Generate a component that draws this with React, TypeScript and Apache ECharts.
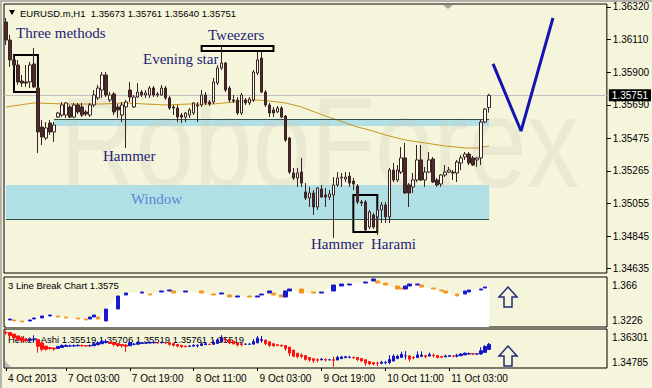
import React, { useEffect, useRef } from "react";
import * as echarts from "echarts";

// ---------- layout constants ----------
const SLOT_COUNT = 151;

// ---------- main chart: EURUSD.m H1 candles (bars 0..121) ----------
const openP = [
  1.36223, 1.36107, 1.35979, 1.35946, 1.35843, 1.35837, 1.35837, 1.35953, 1.35798, 1.35547,
  1.35476, 1.35573, 1.35515, 1.35611, 1.35624, 1.35624, 1.35676, 1.35611, 1.35689, 1.35676,
  1.35644, 1.35624, 1.35689, 1.35734, 1.35785, 1.35882, 1.35721, 1.35760, 1.35676, 1.35624,
  1.35676, 1.35785, 1.35676, 1.35740, 1.35772, 1.35753, 1.35753, 1.35798, 1.35753, 1.35753,
  1.35798, 1.35734, 1.35676, 1.35669, 1.35624, 1.35611, 1.35624, 1.35637, 1.35689, 1.35689,
  1.35753, 1.35708, 1.35708, 1.35830, 1.35927, 1.35959, 1.35798, 1.35721, 1.35721, 1.35637,
  1.35721, 1.35702, 1.35721, 1.35895, 1.35991, 1.35772, 1.35689, 1.35657, 1.35644, 1.35669,
  1.35618, 1.35476, 1.35251, 1.35219, 1.35257, 1.35129, 1.35090, 1.35122, 1.35032, 1.35148,
  1.35109, 1.35096, 1.35109, 1.35174, 1.35219, 1.35212, 1.35231, 1.35199, 1.35167, 1.35064,
  1.35064, 1.34903, 1.34981, 1.34968, 1.35013, 1.35045, 1.34968, 1.35270, 1.35206, 1.35257,
  1.35348, 1.35174, 1.35161, 1.35206, 1.35335, 1.35206, 1.35257, 1.35341, 1.35206, 1.35180,
  1.35238, 1.35257, 1.35257, 1.35251, 1.35315, 1.35354, 1.35373, 1.35348, 1.35335, 1.35348,
  1.35579, 1.35673,
];
const closeP = [
  1.36107, 1.35979, 1.35946, 1.35837, 1.35830, 1.35830, 1.35946, 1.35805, 1.35515, 1.35483,
  1.35541, 1.35515, 1.35560, 1.35637, 1.35689, 1.35702, 1.35611, 1.35689, 1.35644, 1.35624,
  1.35631, 1.35689, 1.35753, 1.35798, 1.35882, 1.35753, 1.35753, 1.35644, 1.35657, 1.35689,
  1.35708, 1.35740, 1.35740, 1.35772, 1.35753, 1.35766, 1.35798, 1.35753, 1.35760, 1.35798,
  1.35734, 1.35669, 1.35669, 1.35611, 1.35611, 1.35637, 1.35657, 1.35702, 1.35682, 1.35753,
  1.35702, 1.35695, 1.35837, 1.35927, 1.35959, 1.35785, 1.35721, 1.35714, 1.35637, 1.35753,
  1.35702, 1.35727, 1.35901, 1.35979, 1.35772, 1.35689, 1.35637, 1.35637, 1.35669, 1.35611,
  1.35463, 1.35257, 1.35219, 1.35251, 1.35186, 1.35090, 1.35122, 1.35032, 1.35154, 1.35096,
  1.35096, 1.35116, 1.35174, 1.35219, 1.35225, 1.35225, 1.35186, 1.35180, 1.35064, 1.35058,
  1.34884, 1.35000, 1.34903, 1.35013, 1.35045, 1.34968, 1.35270, 1.35206, 1.35270, 1.35348,
  1.35122, 1.35122, 1.35206, 1.35335, 1.35206, 1.35257, 1.35335, 1.35193, 1.35174, 1.35238,
  1.35257, 1.35270, 1.35251, 1.35322, 1.35348, 1.35373, 1.35315, 1.35302, 1.35348, 1.35579,
  1.35663, 1.35751,
];
const lowP = [
  1.36075, 1.35934, 1.35914, 1.35818, 1.35805, 1.35805, 1.35798, 1.35798, 1.35380, 1.35431,
  1.35463, 1.35496, 1.35451, 1.35605, 1.35611, 1.35605, 1.35605, 1.35605, 1.35631, 1.35611,
  1.35618, 1.35611, 1.35676, 1.35721, 1.35734, 1.35740, 1.35708, 1.35624, 1.35605, 1.35579,
  1.35412, 1.35708, 1.35669, 1.35734, 1.35740, 1.35734, 1.35734, 1.35740, 1.35740, 1.35747,
  1.35721, 1.35657, 1.35624, 1.35579, 1.35573, 1.35579, 1.35605, 1.35624, 1.35579, 1.35676,
  1.35689, 1.35682, 1.35695, 1.35818, 1.35914, 1.35772, 1.35708, 1.35702, 1.35624, 1.35624,
  1.35689, 1.35689, 1.35708, 1.35882, 1.35766, 1.35676, 1.35611, 1.35611, 1.35637, 1.35605,
  1.35451, 1.35244, 1.35206, 1.35161, 1.35161, 1.35077, 1.35032, 1.34981, 1.35013, 1.35090,
  1.35032, 1.35077, 1.34832, 1.35161, 1.35161, 1.35193, 1.35161, 1.35141, 1.35051, 1.35038,
  1.34871, 1.34890, 1.34890, 1.34852, 1.34929, 1.34929, 1.34929, 1.35193, 1.35193, 1.35244,
  1.35116, 1.35032, 1.35122, 1.35193, 1.35200, 1.35161, 1.35251, 1.35186, 1.35161, 1.35161,
  1.35225, 1.35251, 1.35206, 1.35193, 1.35270, 1.35335, 1.35302, 1.35296, 1.35290, 1.35302,
  1.35573, 1.35640,
];
const highP = [
  1.36249, 1.36140, 1.36011, 1.35979, 1.35882, 1.35946, 1.35966, 1.36056, 1.35811, 1.35592,
  1.35579, 1.35592, 1.35579, 1.35644, 1.35708, 1.35708, 1.35689, 1.35702, 1.35702, 1.35702,
  1.35657, 1.35702, 1.35785, 1.35818, 1.35901, 1.35901, 1.35772, 1.35772, 1.35695, 1.35708,
  1.35721, 1.35837, 1.35753, 1.35830, 1.35785, 1.35785, 1.35811, 1.35811, 1.35772, 1.35818,
  1.35811, 1.35747, 1.35689, 1.35689, 1.35637, 1.35644, 1.35669, 1.35708, 1.35708, 1.35785,
  1.35772, 1.35721, 1.35863, 1.35946, 1.36062, 1.35966, 1.35811, 1.35753, 1.35740, 1.35766,
  1.35734, 1.35740, 1.35914, 1.36030, 1.36030, 1.35785, 1.35702, 1.35676, 1.35682, 1.35682,
  1.35624, 1.35483, 1.35283, 1.35283, 1.35348, 1.35186, 1.35161, 1.35141, 1.35161, 1.35174,
  1.35154, 1.35141, 1.35225, 1.35257, 1.35251, 1.35257, 1.35257, 1.35219, 1.35180, 1.35077,
  1.35077, 1.35013, 1.34994, 1.35032, 1.35064, 1.35064, 1.35283, 1.35315, 1.35302, 1.35418,
  1.35444, 1.35186, 1.35251, 1.35431, 1.35431, 1.35290, 1.35386, 1.35354, 1.35219, 1.35244,
  1.35302, 1.35290, 1.35270, 1.35335, 1.35367, 1.35386, 1.35386, 1.35361, 1.35354, 1.35592,
  1.35669, 1.35761,
];

// moving average: [bar index, value]
const maIndex = [0, 7, 15, 24, 30, 35, 40, 46, 52, 57, 63, 66, 70, 74, 80, 83, 88, 91, 95, 100, 105, 110, 115, 118, 121];
const maValue = [
  1.35676, 1.35702, 1.35695, 1.35695, 1.35702, 1.35695, 1.35689, 1.35695, 1.35695, 1.35708,
  1.35721, 1.35714, 1.35702, 1.35676, 1.35618, 1.35592, 1.35547, 1.35528, 1.35496, 1.35463,
  1.35444, 1.35425, 1.35412, 1.35412, 1.35425,
];

// forecast zig-zag
const forecastIndex = [122, 129, 137];
const forecastValue = [1.35953, 1.35521, 1.36249];

// zones & pattern boxes: [startBar, endBar, top, bottom]
const upperZone = [12, 121, 1.35599, 1.35554];
const windowZone = [0, 121, 1.35174, 1.34955];
const threeMethodsBox = [2, 8, 1.36011, 1.35772];
const tweezersBox = [49, 67, 1.36069, 1.36037];
const haramiBox = [87, 93, 1.35109, 1.34871];

const currentPrice = 1.35751;

// main price axis
const priceMin = 1.34607;
const priceMax = 1.36339;
const priceTicks = [1.3632, 1.3611, 1.359, 1.3569, 1.35475, 1.35265, 1.35055, 1.34845, 1.34635];

// time axis
const timeTickIndex = [0, 15, 31, 47, 63, 79, 95, 111];
const timeTickText = ["4 Oct 2013", "7 Oct 03:00", "7 Oct 19:00", "8 Oct 11:00", "9 Oct 03:00", "9 Oct 19:00", "10 Oct 11:00", "11 Oct 03:00"];

// ---------- 3 Line Break sub-window ----------
const lbIndex = [1, 2, 4, 6, 7, 9, 11, 13, 15, 18, 20, 21, 22, 23, 25, 28, 30, 34, 36, 39, 41, 42, 45, 49, 52, 54, 56, 58, 61, 63, 64, 66, 67, 69, 70, 71, 74, 77, 79, 82, 84, 86, 90, 92, 93, 95, 98, 99, 100, 101, 103, 104, 107, 109, 110, 113, 115, 116, 119, 120];
const lbOpen = [
  1.32868, 1.32868, 1.32781, 1.32781, 1.32954, 1.33041, 1.33215, 1.33215, 1.33128, 1.33041,
  1.32954, 1.32954, 1.33128, 1.33128, 1.32781, 1.33822, 1.35038, 1.35211, 1.35124, 1.35298,
  1.35385, 1.35385, 1.35298, 1.35385, 1.35124, 1.35124, 1.35038, 1.34864, 1.34951, 1.34864,
  1.35038, 1.35211, 1.35211, 1.35038, 1.34864, 1.35385, 1.35558, 1.35298, 1.35211, 1.35385,
  1.35819, 1.35906, 1.36079, 1.36253, 1.36253, 1.36079, 1.35819, 1.35645, 1.35558, 1.35819,
  1.35906, 1.35906, 1.35645, 1.35472, 1.35385, 1.35124, 1.35124, 1.35298, 1.35472, 1.35645,
];
const lbClose = [
  1.32954, 1.32781, 1.32694, 1.32868, 1.33041, 1.33215, 1.33302, 1.33128, 1.33041, 1.32954,
  1.32868, 1.33128, 1.33302, 1.32954, 1.33822, 1.34951, 1.35211, 1.35298, 1.35038, 1.35385,
  1.35472, 1.35211, 1.35385, 1.35211, 1.35038, 1.35211, 1.34864, 1.34951, 1.34864, 1.34951,
  1.35124, 1.35385, 1.35038, 1.34864, 1.35385, 1.35558, 1.35211, 1.35211, 1.35298, 1.35906,
  1.35992, 1.35992, 1.36166, 1.36426, 1.36079, 1.35906, 1.35558, 1.35558, 1.35819, 1.35992,
  1.35992, 1.35732, 1.35558, 1.35385, 1.35211, 1.34951, 1.35385, 1.35472, 1.35558, 1.35732,
];
const lbStart = [0, 1.32954];
const lbEnd = [121, 1.35732];
const lbTicks = [1.366, 1.3226];
const lbTickText = ["1.366", "1.3226"];

// ---------- Heiken-Ashi sub-window ----------
const haTicks = [1.36301, 1.34785];
const haTickText = ["1.36301", "1.34785"];

// ---------- texts ----------
const headerText = "EURUSD.m,H1  1.35673 1.35761 1.35640 1.35751";
const lbTitle = "3 Line Break Chart 1.3575";
const haTitle = "Heiken-Ashi 1.35519 1.35706 1.35519 1.35761 1.35519";
const watermark = "RoboForex";

const UI_FONT = '"Liberation Sans", Arial, sans-serif';
const SERIF = '"Liberation Serif", "Times New Roman", serif';
const NAVY = "#1C1C78";

function heikinAshi() {
  const out: number[][] = [];
  let pO = 0;
  let pC = 0;
  for (let i = 0; i < closeP.length; i++) {
    const c = (openP[i] + highP[i] + lowP[i] + closeP[i]) / 4;
    const o = i === 0 ? (openP[i] + closeP[i]) / 2 : (pO + pC) / 2;
    const h = Math.max(highP[i], o, c);
    const l = Math.min(lowP[i], o, c);
    out.push([o, c, l, h]);
    pO = o;
    pC = c;
  }
  return out;
}

function box(b: number[], style: any) {
  return [
    { xAxis: b[0], yAxis: b[2], itemStyle: style },
    { xAxis: b[1], yAxis: b[3] },
  ];
}

function text(x: number, y: number, t: string, font: string, fill: string, z = 10) {
  return {
    type: "text",
    x,
    y,
    z,
    silent: true,
    style: { text: t, font, fill, textAlign: "left", textVerticalAlign: "middle", align: "left", verticalAlign: "middle" },
  };
}

function subAxisLabel(ticks: number[], labels: string[], bottomPad: number) {
  return {
    show: true,
    customValues: ticks,
    margin: 5,
    color: "#000",
    fontSize: 10,
    fontFamily: UI_FONT,
    formatter: (v: number) => {
      const i = ticks.indexOf(v);
      return i === 0 ? `{t|${labels[0]}}` : `{b|${labels[1]}}`;
    },
    rich: {
      t: { padding: [16, 0, 0, 0], fontSize: 10, fontFamily: UI_FONT, color: "#000" },
      b: { padding: [0, 0, bottomPad, 0], fontSize: 10, fontFamily: UI_FONT, color: "#000" },
    },
  };
}

function buildOption() {
  const slots = Array.from({ length: SLOT_COUNT }, (_, i) => String(i));
  const candles = openP.map((o, i) => [o, closeP[i], lowP[i], highP[i]]);
  const maData = maIndex.map((k, i) => [k, maValue[i]]);
  const vData = forecastIndex.map((k, i) => [k, forecastValue[i]]);
  const lbBricks = lbIndex.map((k, i) => [k, lbOpen[i], lbClose[i], Math.min(lbOpen[i], lbClose[i]), Math.max(lbOpen[i], lbClose[i])]);
  const lbArea = [lbStart, ...lbIndex.map((k, i) => [k, lbClose[i]]), lbEnd];
  const ha = heikinAshi();

  const isTimeTick = (idx: number) => timeTickIndex.indexOf(idx) >= 0;

  const zoneStyle = { color: "#B0E0E6" };
  const boxStyle = { color: "rgba(0,0,0,0)", borderColor: "#000", borderWidth: 2 };

  const grids = [
    { left: 4, top: 4, width: 603, height: 269 },
    { left: 4, top: 277, width: 603, height: 50 },
    { left: 4, top: 329, width: 603, height: 39 },
  ].map((g) => ({ ...g, show: true, borderColor: "#000", borderWidth: 1, backgroundColor: "transparent" }));

  const xAxes = [0, 1, 2].map((i) => ({
    type: "category",
    gridIndex: i,
    data: slots,
    boundaryGap: true,
    show: i === 2,
    axisLine: { show: false },
    splitLine: { show: false },
    axisTick: {
      show: i === 2,
      interval: (idx: number) => isTimeTick(idx),
      alignWithLabel: true,
      length: 3,
      lineStyle: { color: "#000" },
    },
    axisLabel: {
      show: i === 2,
      interval: (idx: number) => isTimeTick(idx),
      formatter: (_v: string, idx: number) => timeTickText[timeTickIndex.indexOf(idx)] || "",
      align: "left",
      padding: [0, 0, 0, 2],
      margin: 5,
      color: "#000",
      fontSize: 10,
      fontFamily: UI_FONT,
    },
  }));

  const yAxes = [
    {
      type: "value",
      gridIndex: 0,
      position: "right",
      min: priceMin,
      max: priceMax,
      scale: true,
      axisLine: { show: false },
      splitLine: { show: false },
      axisTick: { show: true, customValues: priceTicks, length: 4, lineStyle: { color: "#000" } },
      axisLabel: {
        show: true,
        customValues: priceTicks,
        formatter: (v: number) => v.toFixed(5),
        margin: 6,
        color: "#000",
        fontSize: 10,
        fontFamily: UI_FONT,
      },
    },
    {
      type: "value",
      gridIndex: 1,
      position: "right",
      min: lbTicks[1],
      max: lbTicks[0],
      scale: true,
      axisLine: { show: false },
      splitLine: { show: false },
      axisTick: { show: false },
      axisLabel: subAxisLabel(lbTicks, lbTickText, 14),
    },
    {
      type: "value",
      gridIndex: 2,
      position: "right",
      min: haTicks[1],
      max: haTicks[0],
      scale: true,
      axisLine: { show: false },
      splitLine: { show: false },
      axisTick: { show: false },
      axisLabel: subAxisLabel(haTicks, haTickText, 12),
    },
  ];

  const series: any[] = [
    // zones + current price line
    {
      type: "line",
      xAxisIndex: 0,
      yAxisIndex: 0,
      data: [],
      z: 1,
      silent: true,
      markArea: { silent: true, data: [box(upperZone, zoneStyle), box(windowZone, zoneStyle)] },
      markLine: {
        silent: true,
        precision: 5,
        symbol: ["none", "none"],
        label: { show: false },
        lineStyle: { color: "#2F4F4F", width: 1, type: "solid" },
        data: [
          [{ xAxis: upperZone[0], yAxis: upperZone[2] }, { xAxis: upperZone[1], yAxis: upperZone[2] }],
          [{ xAxis: windowZone[0], yAxis: windowZone[3] }, { xAxis: windowZone[1], yAxis: windowZone[3] }],
          {
            yAxis: currentPrice,
            lineStyle: { color: "#C0C0C0", width: 1, type: "solid" },
            label: {
              show: true,
              position: "end",
              formatter: () => currentPrice.toFixed(5),
              backgroundColor: "#000",
              color: "#fff",
              padding: [1, 3, 1, 3],
              distance: 2,
              fontSize: 10,
              fontFamily: UI_FONT,
            },
          },
        ],
      },
    },
    // moving average
    {
      type: "line",
      xAxisIndex: 0,
      yAxisIndex: 0,
      data: maData,
      symbol: "none",
      z: 3,
      silent: true,
      lineStyle: { color: "#C8961E", width: 1 },
    },
    // candles
    {
      type: "candlestick",
      xAxisIndex: 0,
      yAxisIndex: 0,
      data: candles,
      barWidth: 3,
      z: 5,
      silent: true,
      itemStyle: {
        color: "#FFFFF2",
        color0: "#4B2B2B",
        borderColor: "#3A2222",
        borderColor0: "#3A2222",
        borderWidth: 1,
      },
    },
    // pattern boxes
    {
      type: "line",
      xAxisIndex: 0,
      yAxisIndex: 0,
      data: [],
      z: 6,
      silent: true,
      markArea: { silent: true, data: [box(threeMethodsBox, boxStyle), box(tweezersBox, boxStyle), box(haramiBox, boxStyle)] },
    },
    // forecast zig-zag
    {
      type: "line",
      xAxisIndex: 0,
      yAxisIndex: 0,
      data: vData,
      symbol: "none",
      z: 6,
      silent: true,
      lineStyle: { color: "#1414B4", width: 3 },
    },
    // 3 line break area
    {
      type: "line",
      xAxisIndex: 1,
      yAxisIndex: 1,
      data: lbArea,
      symbol: "none",
      z: 2,
      silent: true,
      lineStyle: { opacity: 0, width: 0 },
      areaStyle: { color: "#FFFFFF", opacity: 1, origin: "start" },
    },
    // 3 line break bricks
    {
      type: "candlestick",
      xAxisIndex: 1,
      yAxisIndex: 1,
      data: lbBricks,
      encode: { x: 0, y: [1, 2, 3, 4] },
      barWidth: 4,
      z: 4,
      silent: true,
      itemStyle: {
        color: "#1A1AD0",
        color0: "#F5961E",
        borderColor: "#1A1AD0",
        borderColor0: "#F5961E",
        borderWidth: 1,
      },
    },
    // Heiken-Ashi
    {
      type: "candlestick",
      xAxisIndex: 2,
      yAxisIndex: 2,
      data: ha,
      barWidth: 3,
      z: 5,
      silent: true,
      itemStyle: {
        color: "#1212C8",
        color0: "#FF1010",
        borderColor: "#1212C8",
        borderColor0: "#FF1010",
        borderWidth: 1,
      },
    },
  ];

  const arrow = (top: number) => ({
    type: "polygon",
    z: 10,
    silent: true,
    shape: {
      points: [
        [508, top],
        [517, top + 10],
        [512, top + 10],
        [512, top + 20],
        [504, top + 20],
        [504, top + 10],
        [499, top + 10],
      ],
    },
    style: { fill: "rgba(0,0,0,0)", stroke: "#1E2A78", lineWidth: 1.5 },
  });

  const graphic = {
    elements: [
      { type: "rect", z: 0, silent: true, shape: { x: 0, y: 0, width: 652, height: 2 }, style: { fill: "#B4B4AC" } },
      { type: "rect", z: 0, silent: true, shape: { x: 0, y: 0, width: 2, height: 388 }, style: { fill: "#B4B4AC" } },
      {
        type: "text",
        x: 60,
        y: 143,
        scaleX: 0.82,
        z: 2,
        silent: true,
        style: {
          text: watermark,
          font: 'normal 128px "Liberation Sans", Arial, sans-serif',
          fill: "rgba(205,205,185,0.26)",
          textAlign: "left",
          textVerticalAlign: "middle",
          align: "left",
          verticalAlign: "middle",
        },
      },
      { type: "polygon", z: 10, silent: true, shape: { points: [[9, 10], [15, 10], [12, 15]] }, style: { fill: "#000" } },
      { type: "polygon", z: 10, silent: true, shape: { points: [[443, 5], [453, 5], [448, 9]] }, style: { fill: "#A8A8A8" } },
      { type: "polygon", z: 10, silent: true, shape: { points: [[5, 361], [5, 367], [11, 367]] }, style: { fill: "#B8B8B8" } },
      text(20, 13, headerText, `9.5px ${UI_FONT}`, "#000"),
      text(16, 33, "Three methods", `15px ${SERIF}`, NAVY),
      text(208, 35, "Tweezers", `15px ${SERIF}`, NAVY),
      text(143, 59, "Evening star", `15px ${SERIF}`, NAVY),
      text(103, 156, "Hammer", `15px ${SERIF}`, NAVY),
      text(131, 199, "Window", `15px ${SERIF}`, "#5E83D6"),
      text(311, 244, "Hammer", `15px ${SERIF}`, NAVY),
      text(371, 244, "Harami", `15px ${SERIF}`, NAVY),
      text(8, 285, lbTitle, `9.5px ${UI_FONT}`, "#000"),
      text(8, 339, haTitle, `9.5px ${UI_FONT}`, "#000", 1),
      arrow(287),
      arrow(346),
    ],
  };

  return {
    animation: false,
    backgroundColor: "#F5F5DC",
    grid: grids,
    xAxis: xAxes,
    yAxis: yAxes,
    series,
    graphic,
  };
}

export default function App() {
  const ref = useRef<HTMLDivElement>(null);
  useEffect(() => {
    if (!ref.current) return;
    const chart = echarts.init(ref.current, undefined, { renderer: "svg" });
    chart.setOption(buildOption() as any);
    return () => chart.dispose();
  }, []);
  return (
    <div
      ref={ref}
      style={{ position: "fixed", left: 0, top: 0, width: 652, height: 388, background: "#F5F5DC" }}
    />
  );
}
